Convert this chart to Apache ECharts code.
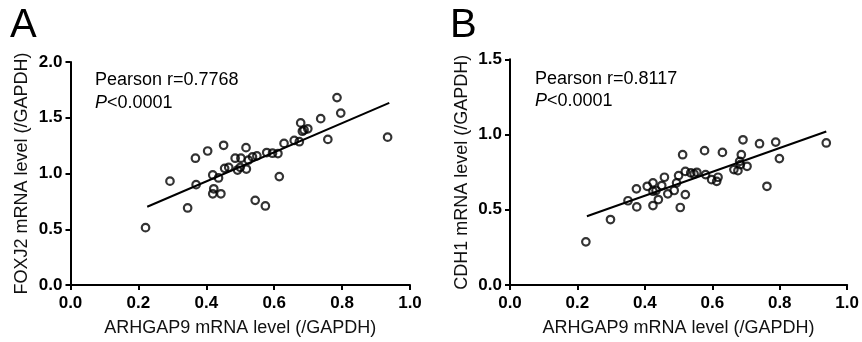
<!DOCTYPE html>
<html>
<head>
<meta charset="utf-8">
<script src="https://cdn.jsdelivr.net/npm/echarts@6/dist/echarts.min.js"></script>
<style>
html,body{margin:0;padding:0;background:#fff;}
#chart{width:862px;height:342px;}
</style>
</head>
<body>
<div id="chart"></div>
<script>
// Panel A: ARHGAP9 vs FOXJ2
const xA = [0.221,0.293,0.345,0.368,0.370,0.404,0.419,0.436,0.422,0.419,0.443,0.451,0.454,0.466,0.485,0.502,0.492,0.500,0.518,0.517,0.524,0.536,0.549,0.578,0.595,0.611,0.615,0.544,0.574,0.629,0.659,0.674,0.678,0.683,0.688,0.699,0.737,0.758,0.785,0.796,0.934];
const yA = [0.514,0.931,0.691,1.137,0.900,1.202,0.987,0.960,0.863,0.818,0.818,1.253,1.046,1.055,1.137,1.137,1.031,1.055,1.040,1.232,1.120,1.149,1.158,1.188,1.182,1.179,0.972,0.759,0.709,1.270,1.297,1.285,1.454,1.379,1.390,1.401,1.492,1.306,1.681,1.542,1.326];
const fitA = [[0.226,0.702],[0.939,1.633]];
// Panel B: ARHGAP9 vs CDH1
const xB = [0.225,0.298,0.350,0.375,0.376,0.407,0.424,0.424,0.424,0.440,0.433,0.450,0.458,0.468,0.487,0.494,0.500,0.505,0.512,0.520,0.520,0.536,0.546,0.554,0.577,0.580,0.598,0.613,0.617,0.630,0.664,0.676,0.681,0.683,0.686,0.691,0.703,0.740,0.762,0.788,0.799,0.938];
const yB = [0.287,0.435,0.560,0.639,0.519,0.656,0.679,0.623,0.528,0.568,0.628,0.661,0.716,0.606,0.628,0.679,0.727,0.515,0.866,0.601,0.755,0.745,0.738,0.749,0.893,0.734,0.700,0.689,0.716,0.881,0.767,0.760,0.822,0.800,0.866,0.965,0.789,0.939,0.656,0.950,0.840,0.944];
const fitB = [[0.228,0.457],[0.938,1.020]];

const panelLetters = ['A','B'];
const yNames = ['FOXJ2 mRNA level (/GAPDH)','CDH1 mRNA level (/GAPDH)'];
const xName = 'ARHGAP9 mRNA level (/GAPDH)';
const statR = ['Pearson r=0.7768','Pearson r=0.8117'];
const statP = '<0.0001';
const yMax = [2.0, 1.5];

const FONT = '"Liberation Sans", Arial, Helvetica, sans-serif';
function pair(xs, ys){ return xs.map((v,i)=>[v, ys[i]]); }

const axisCommon = {
  axisLine:{show:true, lineStyle:{color:'#000', width:2}},
  axisTick:{show:true, inside:false, length:5, lineStyle:{color:'#000', width:2}},
  splitLine:{show:false},
  nameLocation:'middle',
  nameTextStyle:{fontFamily:FONT, fontSize:18, color:'#111'}
};

function xAxis(gi){
  return Object.assign({}, axisCommon, {
    type:'value', gridIndex:gi, min:0, max:1, interval:0.2,
    name:xName, nameGap:34,
    axisLabel:{fontFamily:FONT, fontSize:17, fontWeight:'bold', color:'#000', margin:10,
      formatter:v=>v.toFixed(1)}
  });
}
function yAxis(gi){
  return Object.assign({}, axisCommon, {
    type:'value', gridIndex:gi, min:0, max:yMax[gi], interval:0.5,
    name:yNames[gi], nameGap:39,
    axisLabel:{fontFamily:FONT, fontSize:17, fontWeight:'bold', color:'#000', margin:8,
      formatter:v=>v.toFixed(1)}
  });
}

const scatterStyle = {color:'rgba(0,0,0,0)', borderColor:'#000', borderWidth:2.2};

const chart = echarts.init(document.getElementById('chart'), null, {renderer:'canvas'});
chart.setOption({
  animation:false,
  backgroundColor:'#fff',
  grid:[
    {left:70.5, right:452, top:62, bottom:54.5},
    {left:510, right:11, top:59.3, bottom:56.3}
  ],
  xAxis:[xAxis(0), xAxis(1)],
  yAxis:[yAxis(0), yAxis(1)],
  series:[
    {type:'line', xAxisIndex:0, yAxisIndex:0, data:fitA, showSymbol:false, symbol:'none',
      lineStyle:{color:'#000', width:2}, z:2},
    {type:'scatter', xAxisIndex:0, yAxisIndex:0, data:pair(xA,yA), symbol:'circle', symbolSize:7.5,
      itemStyle:scatterStyle, z:3},
    {type:'line', xAxisIndex:1, yAxisIndex:1, data:fitB, showSymbol:false, symbol:'none',
      lineStyle:{color:'#000', width:2}, z:2},
    {type:'scatter', xAxisIndex:1, yAxisIndex:1, data:pair(xB,yB), symbol:'circle', symbolSize:7.5,
      itemStyle:scatterStyle, z:3}
  ],
  graphic:[
    {type:'text', left:10, top:6, style:{text:panelLetters[0], font:'40px '+FONT, fill:'#000'}},
    {type:'text', left:450, top:6, style:{text:panelLetters[1], font:'40px '+FONT, fill:'#000'}},
    {type:'text', left:95, top:71, style:{text:statR[0], font:'18px '+FONT, fill:'#000'}},
    {type:'text', left:95, top:94, style:{text:'{i|P}'+statP, font:'18px '+FONT, fill:'#000',
      rich:{i:{fontStyle:'italic', fontSize:18, fontFamily:FONT, fill:'#000'}}}},
    {type:'text', left:535, top:70, style:{text:statR[1], font:'18px '+FONT, fill:'#000'}},
    {type:'text', left:535, top:92, style:{text:'{i|P}'+statP, font:'18px '+FONT, fill:'#000',
      rich:{i:{fontStyle:'italic', fontSize:18, fontFamily:FONT, fill:'#000'}}}}
  ]
});
</script>
</body>
</html>
